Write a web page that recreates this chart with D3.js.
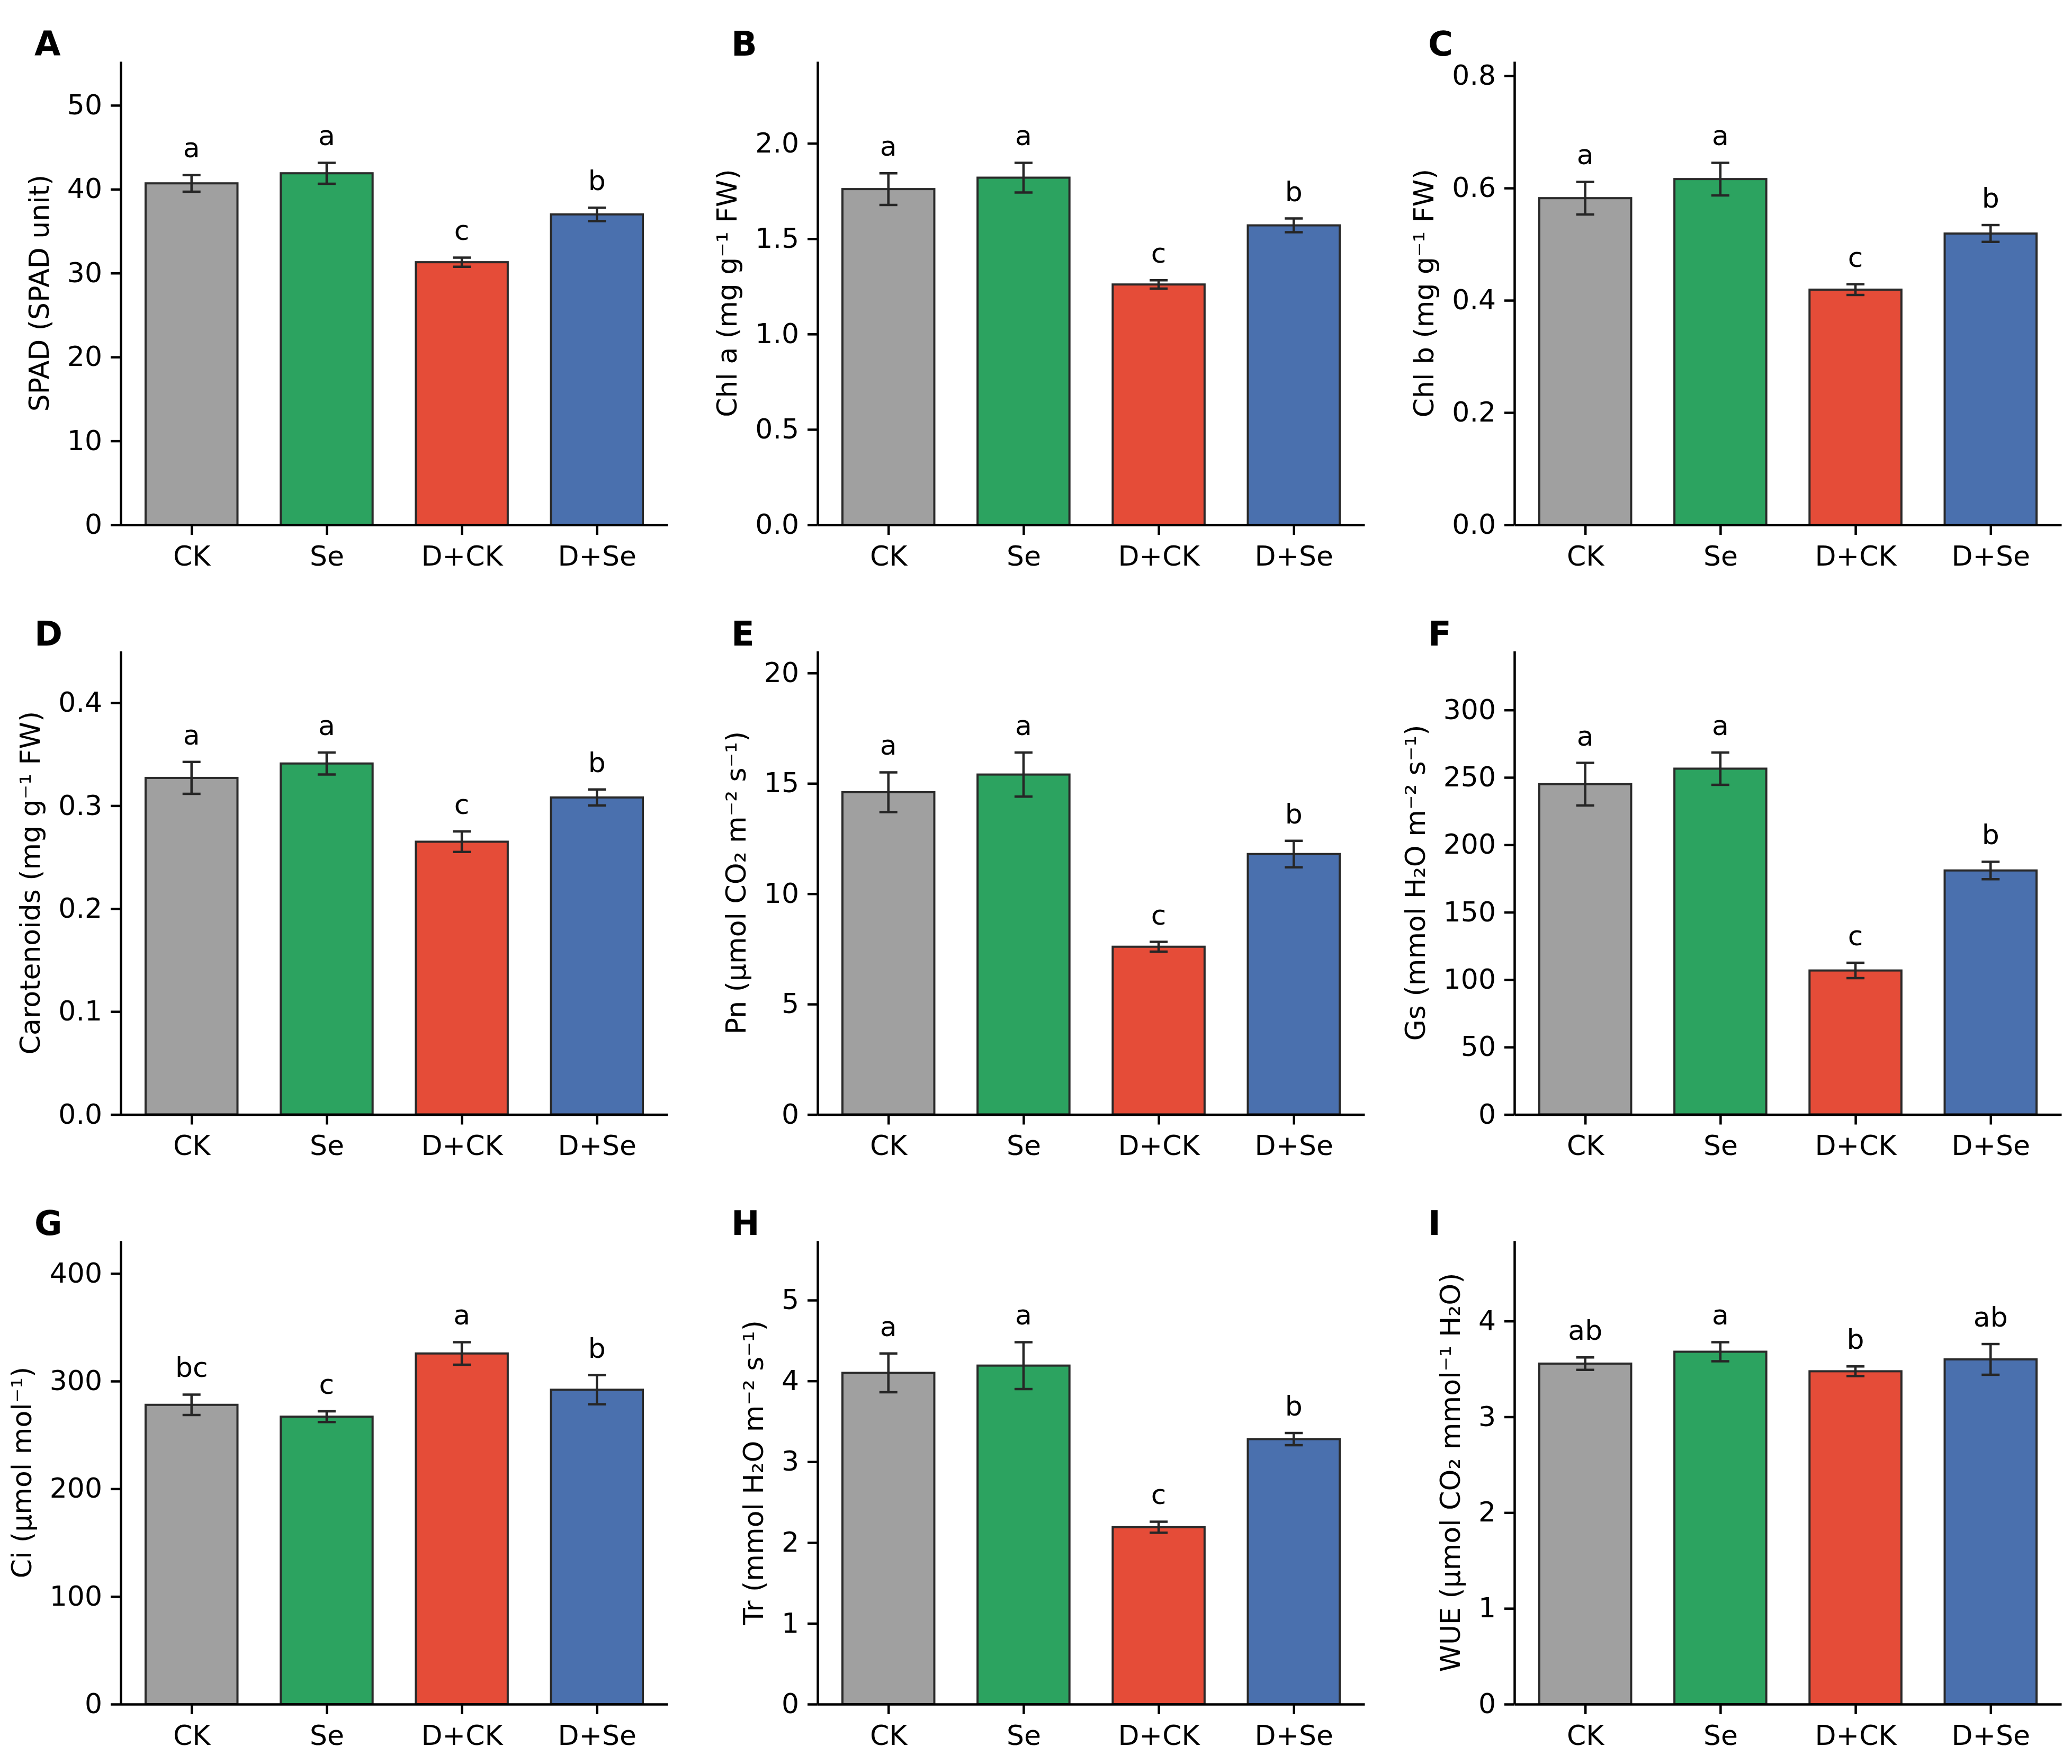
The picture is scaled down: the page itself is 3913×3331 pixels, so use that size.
<!DOCTYPE html>
<html>
<head>
<meta charset="utf-8">
<script src="https://cdn.jsdelivr.net/npm/d3@7"></script>
<style>
  body { margin: 0; background: #fff; }
  svg text { font-family: "DejaVu Sans", sans-serif; }
</style>
</head>
<body>
<svg id="fig"></svg>
<script>
// treatments, shared by all nine panels
const groups = ["CK", "Se", "D+CK", "D+Se"];
const panelIds = ["A", "B", "C", "D", "E", "F", "G", "H", "I"];
const yLabels = [
    "SPAD (SPAD unit)",
    "Chl a (mg g\u207B\u00B9 FW)",
    "Chl b (mg g\u207B\u00B9 FW)",
    "Carotenoids (mg g\u207B\u00B9 FW)",
    "Pn (\u03BCmol CO\u2082 m\u207B\u00B2 s\u207B\u00B9)",
    "Gs (mmol H\u2082O m\u207B\u00B2 s\u207B\u00B9)",
    "Ci (\u03BCmol mol\u207B\u00B9)",
    "Tr (mmol H\u2082O m\u207B\u00B2 s\u207B\u00B9)",
    "WUE (\u03BCmol CO\u2082 mmol\u207B\u00B9 H\u2082O)"
];

// means per panel (CK, Se, D+CK, D+Se)
const meanValues = [
    [40.7, 41.9, 31.3, 37.0],
    [1.76, 1.82, 1.26, 1.57],
    [0.582, 0.616, 0.419, 0.519],
    [0.327, 0.341, 0.265, 0.308],
    [14.6, 15.4, 7.6, 11.8],
    [245, 256.5, 106.8, 181],
    [278, 267, 325.7, 292],
    [4.10, 4.19, 2.19, 3.28],
    [3.556, 3.68, 3.476, 3.60]
];

// error bars (+/-)
const errValues = [
    [1.0, 1.25, 0.55, 0.8],
    [0.083, 0.078, 0.022, 0.036],
    [0.029, 0.029, 0.0095, 0.015],
    [0.0155, 0.0107, 0.01, 0.0078],
    [0.9, 1.0, 0.22, 0.6],
    [15.8, 12, 5.7, 6.5],
    [9.5, 5, 10.5, 13.5],
    [0.24, 0.29, 0.068, 0.075],
    [0.065, 0.1, 0.05, 0.16]
];

const sigLetters = [
    ["a", "a", "c", "b"],
    ["a", "a", "c", "b"],
    ["a", "a", "c", "b"],
    ["a", "a", "c", "b"],
    ["a", "a", "c", "b"],
    ["a", "a", "c", "b"],
    ["bc", "c", "a", "b"],
    ["a", "a", "c", "b"],
    ["ab", "a", "b", "ab"]
];

const yTicks = [
    [0, 10, 20, 30, 40, 50],
    [0, 0.5, 1.0, 1.5, 2.0],
    [0, 0.2, 0.4, 0.6, 0.8],
    [0, 0.1, 0.2, 0.3, 0.4],
    [0, 5, 10, 15, 20],
    [0, 50, 100, 150, 200, 250, 300],
    [0, 100, 200, 300, 400],
    [0, 1, 2, 3, 4, 5],
    [0, 1, 2, 3, 4]
];
const tickFormats = [".0f", ".1f", ".1f", ".1f", ".0f", ".0f", ".0f", ".0f", ".0f"];

const colors = ["#a0a0a0", "#2ca360", "#e54c38", "#4a70ae"];

// layout
const W = 3913, H = 3331;
const colX = [228, 1544, 2860];
const rowY = [116, 1229.5, 2343];
const plotW = 1033, plotH = 875;
const barW = 0.68;
const fontSize = 52;

const svg = d3.select("#fig")
    .attr("width", W)
    .attr("height", H)
    .attr("viewBox", `0 0 ${W} ${H}`);

svg.append("rect").attr("width", W).attr("height", H).attr("fill", "#fff");

panelIds.forEach((id, p) => {
    const col = p % 3, row = Math.floor(p / 3);
    const g = svg.append("g").attr("transform", `translate(${colX[col]}, ${rowY[row]})`);

    const data = groups.map((name, i) => ({
        i: i,
        name: name,
        mean: meanValues[p][i],
        err: errValues[p][i],
        sig: sigLetters[p][i]
    }));

    const margin = 0.05 * (groups.length - 1 + barW);
    const x = d3.scaleLinear()
        .domain([-barW / 2 - margin, groups.length - 1 + barW / 2 + margin])
        .range([0, plotW]);

    const yMax = d3.max(data, d => d.mean + d.err) * 1.28;
    const y = d3.scaleLinear()
        .domain([0, yMax])
        .range([plotH, 0]);

    // bars
    g.append("g").selectAll("rect")
        .data(data)
        .join("rect")
        .attr("x", d => x(d.i - barW / 2))
        .attr("width", x(barW) - x(0))
        .attr("y", d => y(d.mean))
        .attr("height", d => y(0) - y(d.mean))
        .attr("fill", (d, i) => colors[i])
        .attr("stroke", "#2a2a2a")
        .attr("stroke-width", 4);

    // error bars
    const eb = g.append("g").attr("stroke", "#262626").attr("stroke-width", 4.5);
    eb.selectAll("line.v")
        .data(data)
        .join("line")
        .attr("class", "v")
        .attr("x1", d => x(d.i)).attr("x2", d => x(d.i))
        .attr("y1", d => y(d.mean - d.err)).attr("y2", d => y(d.mean + d.err));
    eb.selectAll("line.top")
        .data(data)
        .join("line")
        .attr("class", "top")
        .attr("x1", d => x(d.i) - 17).attr("x2", d => x(d.i) + 17)
        .attr("y1", d => y(d.mean + d.err)).attr("y2", d => y(d.mean + d.err));
    eb.selectAll("line.bot")
        .data(data)
        .join("line")
        .attr("class", "bot")
        .attr("x1", d => x(d.i) - 17).attr("x2", d => x(d.i) + 17)
        .attr("y1", d => y(d.mean - d.err)).attr("y2", d => y(d.mean - d.err));

    // significance letters
    g.append("g").selectAll("text")
        .data(data)
        .join("text")
        .attr("x", d => x(d.i))
        .attr("y", d => y(d.mean + d.err) - 33)
        .attr("text-anchor", "middle")
        .attr("font-size", fontSize)
        .attr("fill", "#000")
        .text(d => d.sig);

    // axes
    const yAxis = g.append("g")
        .call(d3.axisLeft(y)
            .tickValues(yTicks[p])
            .tickFormat(d3.format(tickFormats[p]))
            .tickSize(19)
            .tickSizeOuter(0)
            .tickPadding(16));

    const xAxis = g.append("g")
        .attr("transform", `translate(0, ${plotH})`)
        .call(d3.axisBottom(x)
            .tickValues(d3.range(groups.length))
            .tickFormat(i => groups[i])
            .tickSize(19)
            .tickSizeOuter(0)
            .tickPadding(21));

    [yAxis, xAxis].forEach(a => {
        a.attr("font-size", fontSize).attr("font-family", "DejaVu Sans, sans-serif");
        a.selectAll("path, line").attr("stroke", "#000").attr("stroke-width", 4.5);
        a.selectAll("text").attr("fill", "#000");
    });

    // y label placed left of the tick labels
    const bb = yAxis.node().getBBox();
    g.append("text")
        .attr("transform", `translate(${bb.x - 35}, ${plotH / 2}) rotate(-90)`)
        .attr("text-anchor", "middle")
        .attr("font-size", fontSize)
        .attr("fill", "#000")
        .text(yLabels[p]);

    // panel letter
    g.append("text")
        .attr("x", -163)
        .attr("y", -11)
        .attr("font-size", 64)
        .attr("font-weight", "bold")
        .attr("fill", "#000")
        .text(id);
});
</script>
</body>
</html>
